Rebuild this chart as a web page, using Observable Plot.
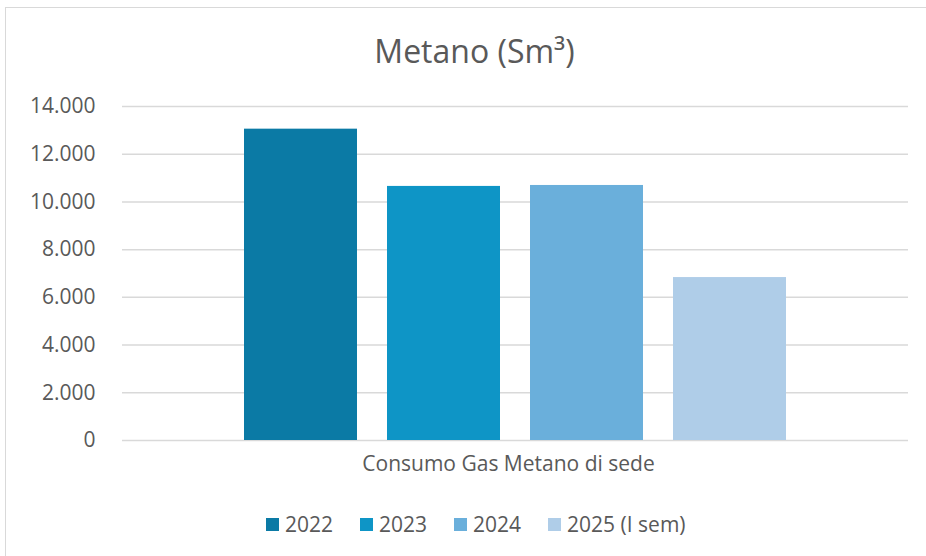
<!DOCTYPE html>
<html>
<head>
<meta charset="utf-8">
<script src="https://cdn.jsdelivr.net/npm/d3@7"></script>
<script src="https://cdn.jsdelivr.net/npm/@observablehq/plot@0.6"></script>
<style>
  html, body { margin: 0; padding: 0; background: #ffffff; }
  body { width: 926px; height: 556px; position: relative; overflow: hidden; font-family: "Open Sans", sans-serif; color: #595959; }
  #frame { position: absolute; left: 5px; top: 7px; width: 960px; height: 580px; border: 1.5px solid #d9d9d9; box-sizing: border-box; }
  #title { position: absolute; left: 0; top: 35px; width: 949px; text-align: center; font-size: 32px; line-height: 32px; color: #595959; }
  #chart { position: absolute; left: 0; top: 80px; }
  #legend { position: absolute; left: 266px; top: 511px; display: flex; align-items: center; gap: 27px; font-size: 21px; line-height: 26px; color: #595959; }
  .item { display: flex; align-items: center; }
  .sw { width: 13px; height: 13px; margin-right: 6px; }
</style>
</head>
<body>
<div id="frame"></div>
<div id="title">Metano (Sm³)</div>
<div id="chart"></div>
<div id="legend"></div>
<script>
const chartTitle = "Metano (Sm³)";
const category = "Consumo Gas Metano di sede";
const series = ["2022", "2023", "2024", "2025 (I sem)"];
const values = [13050, 10650, 10690, 6830];
const colors = ["#0b7aa5", "#0e95c6", "#6aafdb", "#afcde8"];
const yTicks = [0, 2000, 4000, 6000, 8000, 10000, 12000, 14000];

const data = series.map((s, i) => ({series: s, value: values[i]}));
const it = d3.formatLocale({decimal: ",", thousands: ".", grouping: [3], currency: ["", "€"]});
const fmt = it.format(",");

const plot = Plot.plot({
  width: 926,
  height: 415,
  marginTop: 26,
  marginBottom: 55,
  marginLeft: 122,
  marginRight: 18,
  style: {fontFamily: "'Open Sans', sans-serif", fontSize: "21px", color: "#595959", background: "transparent"},
  x: {type: "band", domain: series, paddingInner: 0.21, paddingOuter: 0.853, axis: null},
  y: {domain: [0, 14000], ticks: yTicks, tickFormat: fmt, tickSize: 0, tickPadding: 27, label: null},
  color: {domain: series, range: colors},
  marks: [
    Plot.ruleY(yTicks, {stroke: "#d9d9d9", strokeWidth: 1.5}),
    Plot.barY(data, {x: "series", y: "value", fill: "series"}),
    Plot.axisY({ticks: yTicks, tickFormat: fmt, tickSize: 0, tickPadding: 27, label: null, fill: "#595959", fontSize: 21}),
    Plot.text([category], {frameAnchor: "bottom", dy: 30, dx: -7, fill: "#595959", fontSize: 21})
  ]
});
document.getElementById("chart").appendChild(plot);

const legend = document.getElementById("legend");
series.forEach((s, i) => {
  const item = document.createElement("div");
  item.className = "item";
  const sw = document.createElement("span");
  sw.className = "sw";
  sw.style.background = colors[i];
  const label = document.createElement("span");
  label.textContent = s;
  item.appendChild(sw);
  item.appendChild(label);
  legend.appendChild(item);
});
</script>
</body>
</html>
